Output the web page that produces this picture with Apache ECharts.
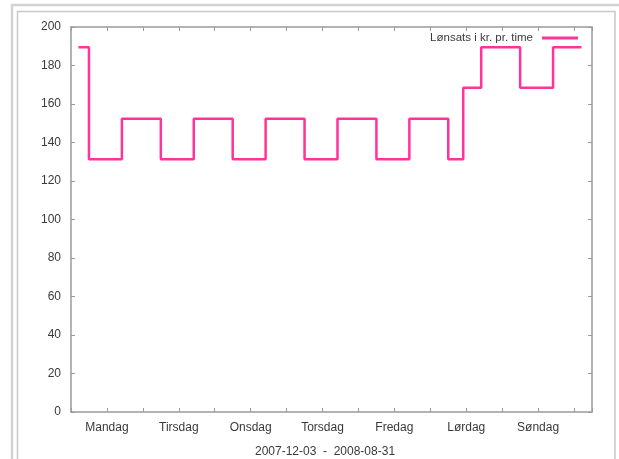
<!DOCTYPE html>
<html>
<head>
<meta charset="utf-8">
<script src="https://cdn.jsdelivr.net/npm/echarts@6/dist/echarts.min.js"></script>
<style>
html,body{margin:0;padding:0;background:#fff;}
#chart{width:619px;height:459px;}
</style>
</head>
<body>
<div id="chart"></div>
<script>
// Data
const dayNames = ['Mandag','Tirsdag','Onsdag','Torsdag','Fredag','Lørdag','Søndag'];
const stepHours = [2.5, 6, 17, 30, 41, 54, 65, 78, 89, 102, 113, 126, 131, 137, 150, 161, 170.5];
const rates =     [189.5, 131.3, 152.3, 131.3, 152.3, 131.3, 152.3, 131.3, 152.3, 131.3, 152.3, 131.3, 168.4, 189.5, 168.4, 189.5, 189.5];
const seriesName = 'Lønsats i kr. pr. time';
const periodLabel = '2007-12-03  -  2008-08-31';
const yTicks = [0, 20, 40, 60, 80, 100, 120, 140, 160, 180, 200];

const points = stepHours.map((h, i) => [h, rates[i]]);
const FONT = "'Liberation Sans', Arial, Helvetica, sans-serif";
const axisGray = '#9a9a9a';
const textColor = '#3a3a3a';
const lineColor = '#ff3399';

const chart = echarts.init(document.getElementById('chart'), null, {renderer: 'canvas'});

function xAxisDef(pos, showLabel) {
  return {
    type: 'value', min: 0, max: 174, interval: 12, position: pos,
    axisLine: {show: true, onZero: false, lineStyle: {color: axisGray, width: 1.5}},
    axisTick: {show: true, inside: true, length: 4, lineStyle: {color: axisGray, width: 1}},
    splitLine: {show: false},
    axisLabel: showLabel ? {
      show: true, margin: 10, fontSize: 12, color: textColor, fontFamily: FONT,
      formatter: function (v) {
        const r = Math.round(v);
        if ((r - 12) % 24 === 0 && r >= 12) return dayNames[(r - 12) / 24] || '';
        return '';
      }
    } : {show: false}
  };
}
function yAxisDef(pos, showLabel) {
  return {
    type: 'value', min: yTicks[0], max: yTicks[yTicks.length - 1], interval: yTicks[1] - yTicks[0], position: pos,
    axisLine: {show: true, onZero: false, lineStyle: {color: axisGray, width: 1.5}},
    axisTick: {show: true, inside: true, length: 4, lineStyle: {color: axisGray, width: 1}},
    splitLine: {show: false},
    axisLabel: showLabel ? {show: true, margin: 10, fontSize: 12, color: textColor, fontFamily: FONT} : {show: false}
  };
}

chart.setOption({
  backgroundColor: '#ffffff',
  animation: false,
  textStyle: {fontFamily: FONT},
  grid: {left: 71, right: 27, top: 27, bottom: 47, containLabel: false},
  legend: {
    data: [seriesName],
    right: 41, top: 32, padding: 0,
    align: 'right',
    icon: 'rect', itemWidth: 36, itemHeight: 3,
    textStyle: {fontFamily: FONT, fontSize: 11.5, color: textColor, padding: [0, 4, 0, 0]}
  },
  xAxis: [xAxisDef('bottom', true), xAxisDef('top', false)],
  yAxis: [yAxisDef('left', true), yAxisDef('right', false)],
  graphic: [
    {type: 'rect', silent: true, shape: {x: 12, y: 5, width: 640, height: 480},
     style: {fill: 'none', stroke: '#d2d2d2', lineWidth: 2.5}},
    {type: 'rect', silent: true, shape: {x: 17.5, y: 11.5, width: 597.5, height: 470},
     style: {fill: 'none', stroke: '#c8c8c8', lineWidth: 1.5}},
    {type: 'text', silent: true, x: 325, y: 452,
     style: {text: periodLabel, fontFamily: FONT, fontSize: 12, fill: textColor, textAlign: 'center', textVerticalAlign: 'middle'}}
  ],
  series: [{
    name: seriesName,
    type: 'line',
    xAxisIndex: 0, yAxisIndex: 0,
    step: 'end',
    symbol: 'none',
    data: points,
    color: lineColor,
    itemStyle: {color: lineColor},
    lineStyle: {color: lineColor, width: 2.5}
  }]
});
</script>
</body>
</html>
